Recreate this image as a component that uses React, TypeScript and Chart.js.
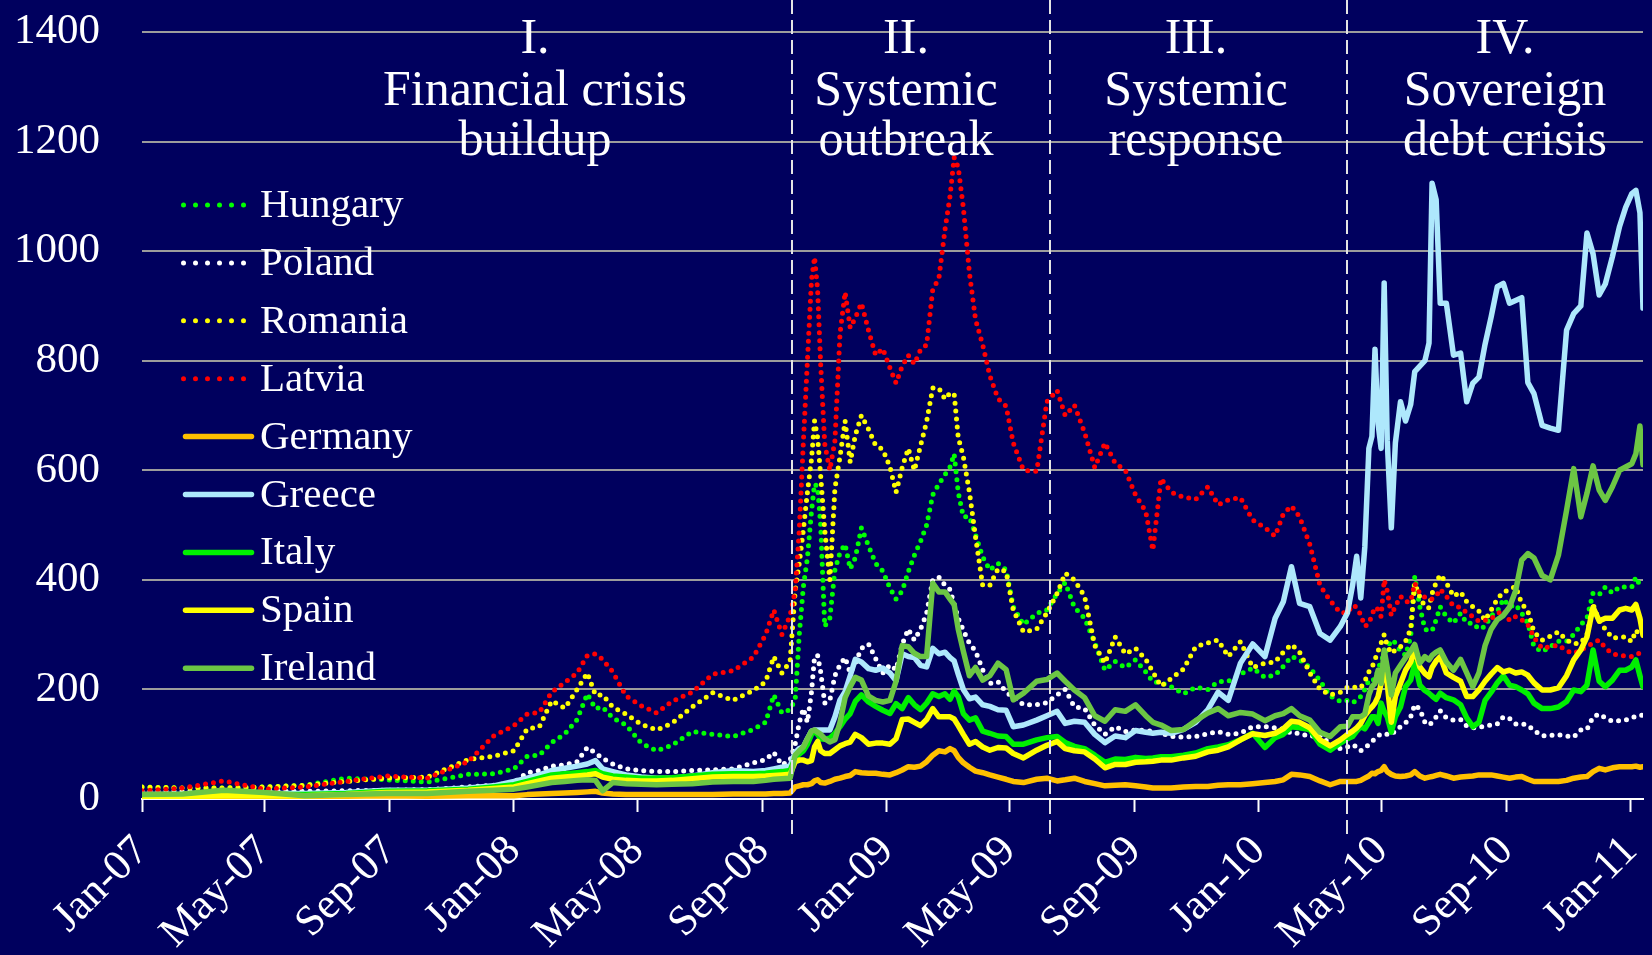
import React, { useEffect, useRef } from "react";
import { Chart, registerables } from "chart.js";

Chart.register(...registerables);

// ---------------- DATA ----------------
// Day offsets from 1 Jan 2007 (shared x values for every series)
const dates = [
  // 2007
  0, 40, 80, 120, 160, 200, 240, 280, 320, 345,
  // Jan - Sep 2008
  365, 378, 390, 402, 415, 427, 437, 445, 452, 462, 475, 490, 505, 520, 540, 560, 580, 600, 612, 620, 628, 636,
  // Oct 2008 - Jun 2009
  641, 645, 649, 653, 657, 660, 663, 666, 670, 675, 680, 685, 690, 695, 700, 706, 713, 720, 727, 734,
  740, 746, 752, 758, 764, 770, 776, 782, 788, 793, 797, 801, 806, 812, 818, 825, 832, 840, 848, 855, 865, 878,
  // Jun 2009 - Mar 2010
  888, 898, 906, 915, 925, 935, 945, 955, 965, 975, 985, 992, 1000, 1010, 1022, 1034, 1046, 1056, 1066, 1078,
  1090, 1102, 1112, 1120, 1128, 1136, 1146, 1156, 1166, 1176,
  // Apr 2010 - Jan 2011
  1183, 1188, 1192, 1196, 1200, 1204, 1207, 1210, 1213, 1216, 1219, 1222, 1226, 1230, 1235, 1240, 1245, 1249, 1254, 1259,
  1263, 1266, 1270, 1274, 1280, 1287, 1294, 1300, 1306, 1312, 1318, 1324, 1330, 1336, 1342, 1348, 1354, 1360, 1366, 1374,
  1382, 1390, 1398, 1405, 1412, 1418, 1424, 1430, 1436, 1443, 1450, 1456, 1462, 1466, 1470, 1473,
];

const hungary = [
  22, 20, 20, 22, 25, 38, 35, 31, 45, 46,
  55, 78, 80, 103, 119, 145, 192, 165, 168, 148, 135, 102, 88, 98, 123, 118, 114, 127, 140, 190, 157, 163,
  181, 300, 387, 440, 525, 575, 570, 500, 315, 330, 418, 450, 465, 420, 440, 495, 462, 430, 416, 385,
  365, 380, 415, 445, 470, 500, 555, 575, 592, 606, 630, 560, 515, 515, 482, 442, 418, 430, 418, 351, 318, 339,
  345, 375, 395, 350, 330, 285, 235, 251, 240, 254, 232, 214, 212, 205, 192, 204, 200, 214, 215, 228,
  239, 222, 226, 242, 260, 254, 240, 216, 188, 178,
  180, 176, 180, 187, 200, 217, 215, 220, 235, 254, 262, 275, 290, 285, 270, 262, 296, 406, 351, 310,
  307, 307, 327, 351, 333, 321, 339, 321, 321, 310, 315, 335, 342, 365, 351, 355, 339, 321, 278, 269,
  278, 288, 288, 300, 318, 330, 376, 373, 387, 376, 387, 387, 387, 405, 390, 388,
];

const poland = [
  14, 14, 15, 14, 14, 15, 16, 17, 22, 25,
  30, 48, 52, 60, 62, 68, 94, 84, 74, 64, 55, 52, 50, 50, 52, 53, 55, 66, 72, 85, 62, 71,
  100, 139, 165, 140, 195, 260, 262, 232, 175, 180, 225, 245, 258, 230, 248, 275, 283, 256, 230, 245,
  236, 282, 310, 290, 310, 339, 400, 405, 390, 382, 355, 330, 308, 284, 270, 236, 211, 214, 195, 186, 172, 172,
  176, 190, 200, 168, 165, 135, 118, 132, 123, 126, 125, 123, 120, 114, 113, 114, 119, 123, 118, 120,
  132, 132, 130, 128, 120, 120, 114, 117, 100, 92,
  95, 99, 95, 88, 94, 99, 105, 110, 115, 119, 118, 118, 117, 125, 132, 139, 150, 172, 164, 140,
  135, 140, 150, 161, 148, 144, 145, 133, 130, 131, 133, 135, 137, 150, 147, 137, 137, 135, 125, 115,
  116, 117, 115, 113, 126, 127, 150, 155, 148, 142, 143, 144, 148, 151, 153, 153,
];

const romania = [
  22, 20, 20, 22, 25, 32, 38, 40, 72, 78,
  88, 128, 132, 179, 166, 200, 230, 190, 190, 168, 155, 136, 126, 138, 168, 194, 180, 198, 214, 260, 230, 251,
  380, 430, 491, 560, 620, 690, 660, 590, 491, 400, 567, 625, 690, 615, 664, 700, 675, 645, 638, 606,
  560, 605, 640, 600, 645, 689, 750, 750, 730, 741, 740, 660, 625, 560, 478, 390, 390, 420, 415, 345, 305, 310,
  340, 375, 412, 400, 370, 280, 248, 296, 265, 275, 255, 232, 206, 220, 237, 278, 285, 290, 260, 287,
  240, 248, 250, 268, 282, 268, 230, 200, 190, 195,
  204, 204, 204, 203, 215, 232, 240, 255, 270, 285, 300, 280, 266, 272, 278, 288, 310, 394, 369, 351,
  349, 375, 395, 409, 395, 370, 378, 360, 351, 343, 326, 345, 365, 378, 382, 388, 357, 343, 305, 290,
  297, 305, 290, 283, 285, 300, 355, 325, 310, 294, 295, 296, 287, 308, 299, 300,
];

const latvia = [
  15, 20, 33, 18, 22, 32, 42, 38, 68, 115,
  134, 155, 158, 195, 213, 230, 262, 265, 255, 232, 188, 170, 157, 178, 195, 228, 234, 259, 300, 345, 300, 335,
  380, 490, 650, 800, 947, 989, 930, 794, 648, 600, 654, 850, 925, 860, 878, 905, 855, 810, 822, 787,
  759, 790, 810, 794, 820, 829, 930, 950, 1039, 1101, 1171, 1153, 1080, 960, 875, 829, 773, 731, 717, 650, 600, 598,
  725, 746, 700, 719, 669, 605, 650, 613, 600, 555, 525, 454, 585, 560, 551, 547, 570, 537, 546, 550,
  509, 495, 480, 520, 535, 515, 465, 390, 362, 340,
  340, 354, 350, 336, 315, 320, 336, 350, 346, 333, 400, 380, 335, 352, 370, 360, 360, 394, 375, 368,
  364, 365, 370, 383, 370, 352, 350, 340, 333, 324, 326, 329, 338, 345, 326, 333, 327, 318, 295, 275,
  278, 281, 270, 266, 272, 278, 285, 290, 276, 265, 262, 261, 260, 264, 266, 266,
];

const germany = [
  3, 3, 3, 3, 4, 5, 6, 5, 6, 6,
  6, 8, 9, 10, 11, 12, 13, 14, 11, 9, 8, 8, 8, 8, 8, 8, 9, 9, 9, 10, 10, 11,
  22, 24, 26, 26, 28, 33, 35, 30, 29, 32, 36, 38, 41, 43, 50, 48, 47, 47, 45, 44,
  48, 53, 59, 58, 60, 68, 80, 88, 86, 92, 88, 76, 66, 58, 51, 48, 44, 40, 36, 32, 30, 36,
  38, 33, 35, 38, 32, 28, 24, 25, 26, 24, 22, 20, 20, 20, 22, 23, 23, 25, 26, 26,
  28, 30, 32, 35, 45, 44, 41, 33, 26, 32,
  32, 32, 32, 34, 38, 42, 47, 46, 50, 52, 59, 50, 45, 42, 41, 42, 44, 50, 42, 38,
  40, 41, 43, 45, 42, 38, 40, 41, 42, 44, 44, 44, 42, 40, 38, 40, 41, 36, 32, 32,
  32, 32, 34, 38, 40, 41, 50, 56, 53, 57, 59, 59, 59, 60, 58, 59,
];

const greece = [
  8, 8, 9, 10, 10, 12, 16, 16, 20, 24,
  32, 38, 44, 52, 56, 60, 64, 70, 55, 50, 44, 40, 38, 38, 42, 48, 52, 50, 52, 55, 58, 60,
  85, 92, 95, 110, 124, 126, 126, 126, 126, 126, 150, 181, 196, 225, 255, 250, 238, 235, 239, 230,
  216, 265, 260, 258, 244, 241, 275, 265, 268, 258, 252, 228, 200, 183, 186, 172, 169, 163, 162, 132, 135, 144,
  152, 160, 138, 142, 140, 118, 103, 115, 112, 125, 122, 120, 122, 120, 127, 140, 163, 195, 180, 248,
  283, 260, 330, 360, 424, 357, 351, 302, 290, 315,
  340, 390, 443, 367, 460, 640, 662, 821, 685, 640, 942, 655, 495, 650, 725, 690, 720, 780, 790, 800,
  832, 1124, 1094, 905, 905, 810, 814, 725, 759, 770, 830, 880, 935, 941, 905, 910, 915, 760, 740, 682,
  677, 673, 856, 886, 900, 1033, 995, 920, 940, 990, 1045, 1080, 1105, 1111, 1070, 896,
];

const italy = [
  6, 6, 8, 8, 8, 10, 14, 15, 18, 22,
  26, 32, 38, 44, 46, 48, 50, 52, 46, 42, 40, 38, 38, 39, 42, 45, 46, 46, 47, 49, 50, 52,
  75, 82, 88, 100, 118, 124, 118, 110, 109, 111, 120, 132, 146, 156, 178, 190, 177, 169, 162, 156,
  174, 165, 185, 172, 163, 175, 192, 187, 192, 182, 197, 187, 156, 144, 148, 124, 120, 115, 114, 100, 100, 108,
  112, 114, 103, 96, 92, 80, 67, 73, 72, 76, 74, 75, 77, 77, 80, 84, 92, 95, 99, 108,
  120, 94, 112, 118, 132, 130, 127, 100, 89, 102,
  110, 114, 124, 132, 128, 140, 150, 150, 138, 175, 160, 150, 122, 150, 168, 205, 217, 248, 208, 198,
  193, 188, 182, 193, 185, 181, 172, 148, 132, 140, 180, 195, 212, 225, 208, 205, 199, 192, 175, 165,
  165, 168, 178, 199, 196, 208, 272, 215, 205, 217, 235, 235, 241, 254, 225, 205,
];

const spain = [
  5, 5, 6, 6, 6, 8, 12, 13, 16, 19,
  22, 28, 33, 38, 40, 42, 44, 46, 40, 36, 34, 33, 33, 34, 37, 40, 41, 41, 42, 43, 44, 45,
  68, 71, 71, 68, 70, 95, 105, 88, 83, 83, 90, 97, 101, 104, 118, 112, 100, 102, 102, 100,
  110, 145, 146, 140, 134, 145, 165, 150, 150, 150, 146, 134, 118, 100, 105, 95, 89, 94, 93, 83, 75, 89,
  98, 105, 92, 88, 86, 73, 57, 63, 63, 67, 68, 69, 71, 71, 75, 78, 86, 89, 95, 108,
  119, 116, 120, 128, 142, 140, 130, 108, 97, 108,
  118, 124, 130, 138, 152, 162, 168, 175, 187, 211, 240, 210, 140, 187, 211, 235, 250, 272, 241, 229,
  223, 240, 252, 260, 230, 222, 215, 187, 187, 199, 215, 228, 240, 232, 235, 230, 232, 226, 212, 199,
  199, 203, 225, 254, 272, 296, 350, 325, 330, 330, 345, 348, 345, 355, 330, 299,
];

const ireland = [
  8, 9, 16, 12, 6, 8, 10, 10, 14, 16,
  18, 22, 26, 30, 32, 34, 35, 34, 15, 30, 28, 27, 26, 27, 28, 31, 32, 32, 34, 36, 37, 38,
  80, 88, 95, 110, 124, 126, 122, 118, 110, 104, 108, 140, 185, 205, 222, 217, 188, 180, 177, 180,
  215, 280, 278, 266, 260, 260, 394, 378, 378, 365, 355, 310, 270, 225, 240, 217, 225, 248, 236, 181, 193, 215,
  218, 230, 215, 199, 185, 152, 142, 163, 160, 172, 152, 140, 135, 125, 127, 143, 157, 165, 152, 158,
  155, 143, 152, 156, 165, 152, 144, 122, 114, 132,
  133, 150, 150, 150, 155, 190, 205, 211, 235, 211, 272, 240, 190, 230, 244, 258, 270, 282, 248, 260,
  254, 262, 268, 272, 250, 235, 255, 230, 205, 230, 280, 310, 327, 335, 350, 380, 436, 448, 440, 408,
  400, 445, 527, 603, 515, 558, 608, 564, 545, 570, 600, 606, 612, 630, 681, 610,
];

// Axis ticks
const tickDays = [0, 120, 243, 365, 486, 609, 731, 851, 974, 1096, 1216, 1339, 1461];
const tickLabels = [
  "Jan-07", "May-07", "Sep-07", "Jan-08", "May-08", "Sep-08", "Jan-09",
  "May-09", "Sep-09", "Jan-10", "May-10", "Sep-10", "Jan-11",
];
const yTicks = [0, 200, 400, 600, 800, 1000, 1200, 1400];

// Period separators (day offsets) and titles
const dividerDays = [638, 891, 1183];
const periodTitles = [
  ["I.", "Financial crisis", "buildup"],
  ["II.", "Systemic", "outbreak"],
  ["III.", "Systemic", "response"],
  ["IV.", "Sovereign", "debt crisis"],
];

const seriesNames = ["Hungary", "Poland", "Romania", "Latvia", "Germany", "Greece", "Italy", "Spain", "Ireland"];
const seriesValues = [hungary, poland, romania, latvia, germany, greece, italy, spain, ireland];

// ---------------- STYLE / LAYOUT ----------------
const W = 1652;
const H = 955;
const BG = "#00005e";
const FONT = "'Liberation Serif', 'Times New Roman', serif";
const seriesStyle = [
  { color: "#00ff00", dotted: true },
  { color: "#ffffff", dotted: true },
  { color: "#ffff00", dotted: true },
  { color: "#ff0000", dotted: true },
  { color: "#ffc000", dotted: false },
  { color: "#aee8fc", dotted: false },
  { color: "#00f000", dotted: false },
  { color: "#ffff00", dotted: false },
  { color: "#6cc644", dotted: false },
];
const titleCentersPx = [535, 906, 1196, 1505];
const titleBaselinesPx = [53, 105, 155];
const legendLayout = { x0: 183, x1: 254, textX: 260, y0: 205, dy: 57.9 };

const overlayPlugin = {
  id: "overlay",
  afterDatasetsDraw(chart: any) {
    const { ctx } = chart;
    const xs = chart.scales.x;
    ctx.save();
    ctx.strokeStyle = "#e4e4e4";
    ctx.lineWidth = 2;
    ctx.setLineDash([14, 6]);
    dividerDays.forEach((d) => {
      const px = Math.round(xs.getPixelForValue(d));
      ctx.beginPath();
      ctx.moveTo(px, 0);
      ctx.lineTo(px, 838);
      ctx.stroke();
    });
    ctx.restore();
  },
  afterDraw(chart: any) {
    const { ctx } = chart;
    ctx.save();
    // period titles
    ctx.fillStyle = "#ffffff";
    ctx.font = `50px ${FONT}`;
    ctx.textAlign = "center";
    ctx.textBaseline = "alphabetic";
    periodTitles.forEach((lines, i) => {
      lines.forEach((t, j) => ctx.fillText(t, titleCentersPx[i], titleBaselinesPx[j]));
    });
    // legend
    const L = legendLayout;
    ctx.font = `41px ${FONT}`;
    ctx.textAlign = "left";
    seriesNames.forEach((name, i) => {
      const y = L.y0 + L.dy * i;
      const st = seriesStyle[i];
      if (st.dotted) {
        ctx.fillStyle = st.color;
        for (let k = 0; k < 6; k++) {
          ctx.beginPath();
          ctx.arc(L.x0 + 0.5 + 12 * k, y, 2.5, 0, Math.PI * 2);
          ctx.fill();
        }
      } else {
        ctx.strokeStyle = st.color;
        ctx.lineWidth = 5.5;
        ctx.lineCap = "round";
        ctx.beginPath();
        ctx.moveTo(L.x0 + 2.5, y);
        ctx.lineTo(L.x1 - 2.5, y);
        ctx.stroke();
      }
      ctx.fillStyle = "#ffffff";
      ctx.fillText(name, L.textX, y + 12);
    });
    ctx.restore();
  },
};

export default function App() {
  const ref = useRef<HTMLCanvasElement | null>(null);

  useEffect(() => {
    document.body.style.margin = "0";
    document.body.style.background = BG;
    if (!ref.current) return;
    seriesValues.forEach((v, i) => {
      if (v.length !== dates.length) console.error(seriesNames[i], v.length, dates.length);
    });
    const chart = new Chart(ref.current, {
      type: "line",
      data: {
        datasets: seriesNames.map((name, i) => ({
          label: name,
          data: dates.map((d, k) => ({ x: d, y: seriesValues[i][k] })),
          borderColor: seriesStyle[i].color,
          backgroundColor: seriesStyle[i].color,
          borderWidth: seriesStyle[i].dotted ? 5 : 5.5,
          borderDash: seriesStyle[i].dotted ? [0, 8] : [],
          borderCapStyle: "round",
          borderJoinStyle: "round",
          pointRadius: 0,
          pointHoverRadius: 0,
          tension: 0,
          fill: false,
          order: seriesNames.length - i,
        })),
      },
      options: {
        responsive: false,
        maintainAspectRatio: false,
        devicePixelRatio: 1,
        animation: false,
        events: [],
        layout: { padding: { top: 32, right: 9, left: 0, bottom: 0 } },
        plugins: {
          legend: { display: false },
          tooltip: { enabled: false },
          title: { display: false },
        },
        scales: {
          x: {
            type: "linear",
            min: 0,
            max: 1473,
            afterBuildTicks: (s: any) => {
              s.ticks = tickDays.map((v) => ({ value: v }));
            },
            afterFit: (s: any) => {
              s.height = 156;
              s.paddingLeft = 0;
              s.paddingRight = 0;
            },
            ticks: {
              autoSkip: false,
              minRotation: 45,
              maxRotation: 45,
              padding: 14,
              color: "#ffffff",
              font: { family: FONT, size: 43 },
              callback: (_v: any, i: number) => tickLabels[i],
            },
            grid: {
              drawOnChartArea: false,
              drawTicks: true,
              tickLength: 13,
              tickColor: "#ffffff",
              tickWidth: 2,
            },
            border: { display: true, color: "#ffffff", width: 2 },
          },
          y: {
            type: "linear",
            min: 0,
            max: 1400,
            afterBuildTicks: (s: any) => {
              s.ticks = yTicks.map((v) => ({ value: v }));
            },
            afterFit: (s: any) => {
              s.width = 142;
              s.paddingTop = 0;
              s.paddingBottom = 0;
            },
            ticks: {
              color: "#ffffff",
              padding: 42,
              font: { family: FONT, size: 43 },
              callback: (v: any) => String(v),
            },
            grid: {
              color: (c: any) => (c.tick && c.tick.value === 0 ? "rgba(0,0,0,0)" : "#9c9c9c"),
              lineWidth: 2,
              drawTicks: false,
            },
            border: { display: false },
          },
        },
      },
      plugins: [overlayPlugin],
    } as any);
    return () => chart.destroy();
  }, []);

  return (
    <div
      style={{
        position: "fixed",
        left: 0,
        top: 0,
        width: W,
        height: H,
        background: BG,
        overflow: "hidden",
      }}
    >
      <canvas ref={ref} width={W} height={H} style={{ display: "block", width: W, height: H }} />
    </div>
  );
}
